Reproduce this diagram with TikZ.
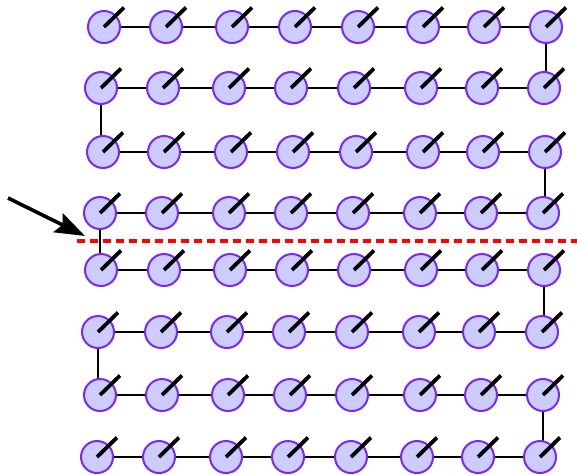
\documentclass[tikz,border=0pt]{standalone}
\usetikzlibrary{arrows.meta}
\definecolor{spinfill}{RGB}{204,204,255}
\definecolor{spinedge}{RGB}{122,40,245}
\pgfdeclarelayer{bg}
\pgfsetlayers{bg,main}
\tikzset{
  site/.style={circle,draw=spinedge,fill=spinfill,line width=2pt,minimum size=32pt,inner sep=0pt},
  spinline/.style={line width=3.8pt},
  bond/.style={line width=2.9pt},
  cut/.style={red,line width=3.2pt,dash pattern=on 8pt off 5pt},
  pointer/.style={line width=3.6pt,-{Stealth[length=30pt,width=21pt,inset=5pt]}}
}
\begin{document}
\begin{tikzpicture}[x=1pt,y=-1pt]
\useasboundingbox (0,0) rectangle (577,474);
% rows: y and x-coordinates of the eight sites
\foreach \r/\y/\xs in {
  1/27/{104,166,232,295,358,423,484,546},
  2/88/{101,163,229,291,354,421,482,544},
  3/152/{103,164,231,293,356,423,483,545},
  4/213/{100,162,229,291,353,420,481,543},
  5/270/{101,164,230,292,354,421,482,544},
  6/332/{98,161,227,289,352,419,479,542},
  7/395/{100,162,228,290,352,420,481,543},
  8/457/{97,159,226,288,351,417,478,540}}{
  \foreach \x [count=\c] in \xs {
    \node[site] (n-\r-\c) at (\x,\y) {};
    \draw[spinline] (n-\r-\c.center) -- ++(20,-19.5);
  }
}
\begin{pgfonlayer}{bg}
  \foreach \r in {1,...,8}{
    \foreach \c [evaluate=\c as \d using int(\c+1)] in {1,...,7}{
      \draw[bond] (n-\r-\c.center) -- (n-\r-\d.center);
    }
  }
  \foreach \a/\b in {1/2,3/4,5/6,7/8}{
    \draw[bond] (n-\a-8.center) -- (n-\a-8.center |- n-\b-8.center);
  }
  \foreach \a/\b in {2/3,4/5,6/7}{
    \draw[bond] (n-\a-1.center) -- (n-\a-1.center |- n-\b-1.center);
  }
\end{pgfonlayer}
\coordinate (cutL) at (77,241);
\coordinate (cutR) at (577,241);
\draw[cut] (cutL) -- (cutR);
\coordinate (arrS) at (8,198);
\coordinate (arrT) at (85,236);
\draw[pointer] (arrS) -- (arrT);
\end{tikzpicture}
\end{document}
